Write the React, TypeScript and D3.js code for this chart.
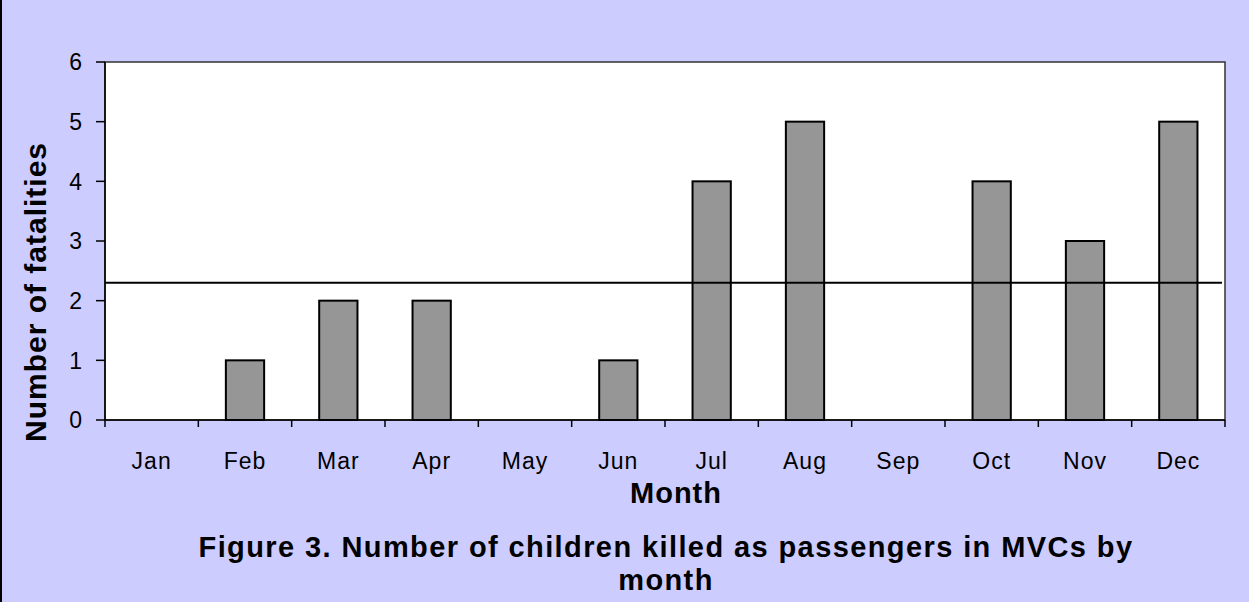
import React from 'react';
import * as d3 from 'd3';

const months = ['Jan', 'Feb', 'Mar', 'Apr', 'May', 'Jun', 'Jul', 'Aug', 'Sep', 'Oct', 'Nov', 'Dec'];
const fatalities = [0, 1, 2, 2, 0, 1, 4, 5, 0, 4, 3, 5];
const yTicks = [0, 1, 2, 3, 4, 5, 6];
const averageLine = 2.3;

const W = 1249;
const H = 602;
const margin = { left: 105, right: 24, top: 62, bottom: 182 };

export default function App() {
  const x = d3
    .scaleBand()
    .domain(months)
    .range([margin.left, W - margin.right])
    .paddingInner(0.59)
    .paddingOuter(0.295);
  const y = d3.scaleLinear().domain([0, 6]).range([H - margin.bottom, margin.top]);
  const step = (W - margin.right - margin.left) / months.length;
  const font = '"Liberation Sans", Arial, sans-serif';
  const bottom = y(0);
  const right = W - margin.right;

  return (
    <svg
      width={W}
      height={H}
      style={{ position: 'absolute', left: 0, top: 0, display: 'block' }}
      fontFamily={font}
    >
      <rect x={0} y={0} width={W} height={H} fill="#ccccff" />
      <line x1={1} x2={1} y1={0} y2={H} stroke="#000" strokeWidth={2} />
      <rect x={margin.left} y={margin.top} width={right - margin.left} height={bottom - margin.top} fill="#fff" stroke="#333" strokeWidth={1.5} />
      {months.map((m, i) => (
        <rect
          key={m}
          x={x(m)}
          y={y(fatalities[i])}
          width={x.bandwidth()}
          height={bottom - y(fatalities[i])}
          fill="#969696"
          stroke="#000"
          strokeWidth={2}
        />
      ))}
      <line x1={margin.left} x2={right - 3} y1={y(averageLine)} y2={y(averageLine)} stroke="#000" strokeWidth={2} />
      <line x1={margin.left} x2={margin.left} y1={margin.top} y2={bottom} stroke="#000" strokeWidth={1.5} />
      <line x1={margin.left} x2={right} y1={bottom} y2={bottom} stroke="#000" strokeWidth={1.5} />
      {yTicks.map((t) => (
        <g key={t}>
          <line x1={margin.left - 9} x2={margin.left} y1={y(t)} y2={y(t)} stroke="#000" strokeWidth={1.5} />
          <text x={margin.left - 23} y={y(t)} dy="0.36em" textAnchor="end" fontSize={23}>
            {t}
          </text>
        </g>
      ))}
      {d3.range(months.length + 1).map((i) => (
        <line
          key={i}
          x1={margin.left + i * step}
          x2={margin.left + i * step}
          y1={bottom}
          y2={bottom + 7}
          stroke="#000"
          strokeWidth={1.5}
        />
      ))}
      {months.map((m) => (
        <text key={m} x={(x(m) as number) + x.bandwidth() / 2} y={469} textAnchor="middle" fontSize={23} letterSpacing={1}>
          {m}
        </text>
      ))}
      <text x={676} y={503} textAnchor="middle" fontSize={29} fontWeight="bold" letterSpacing={1}>
        Month
      </text>
      <text transform="translate(46,292) rotate(-90)" textAnchor="middle" fontSize={30} fontWeight="bold" letterSpacing={1}>
        Number of fatalities
      </text>
      <text x={666} y={557} textAnchor="middle" fontSize={29} fontWeight="bold" letterSpacing={1.4}>
        Figure 3. Number of children killed as passengers in MVCs by
      </text>
      <text x={666} y={590} textAnchor="middle" fontSize={29} fontWeight="bold" letterSpacing={1.4}>
        month
      </text>
    </svg>
  );
}
